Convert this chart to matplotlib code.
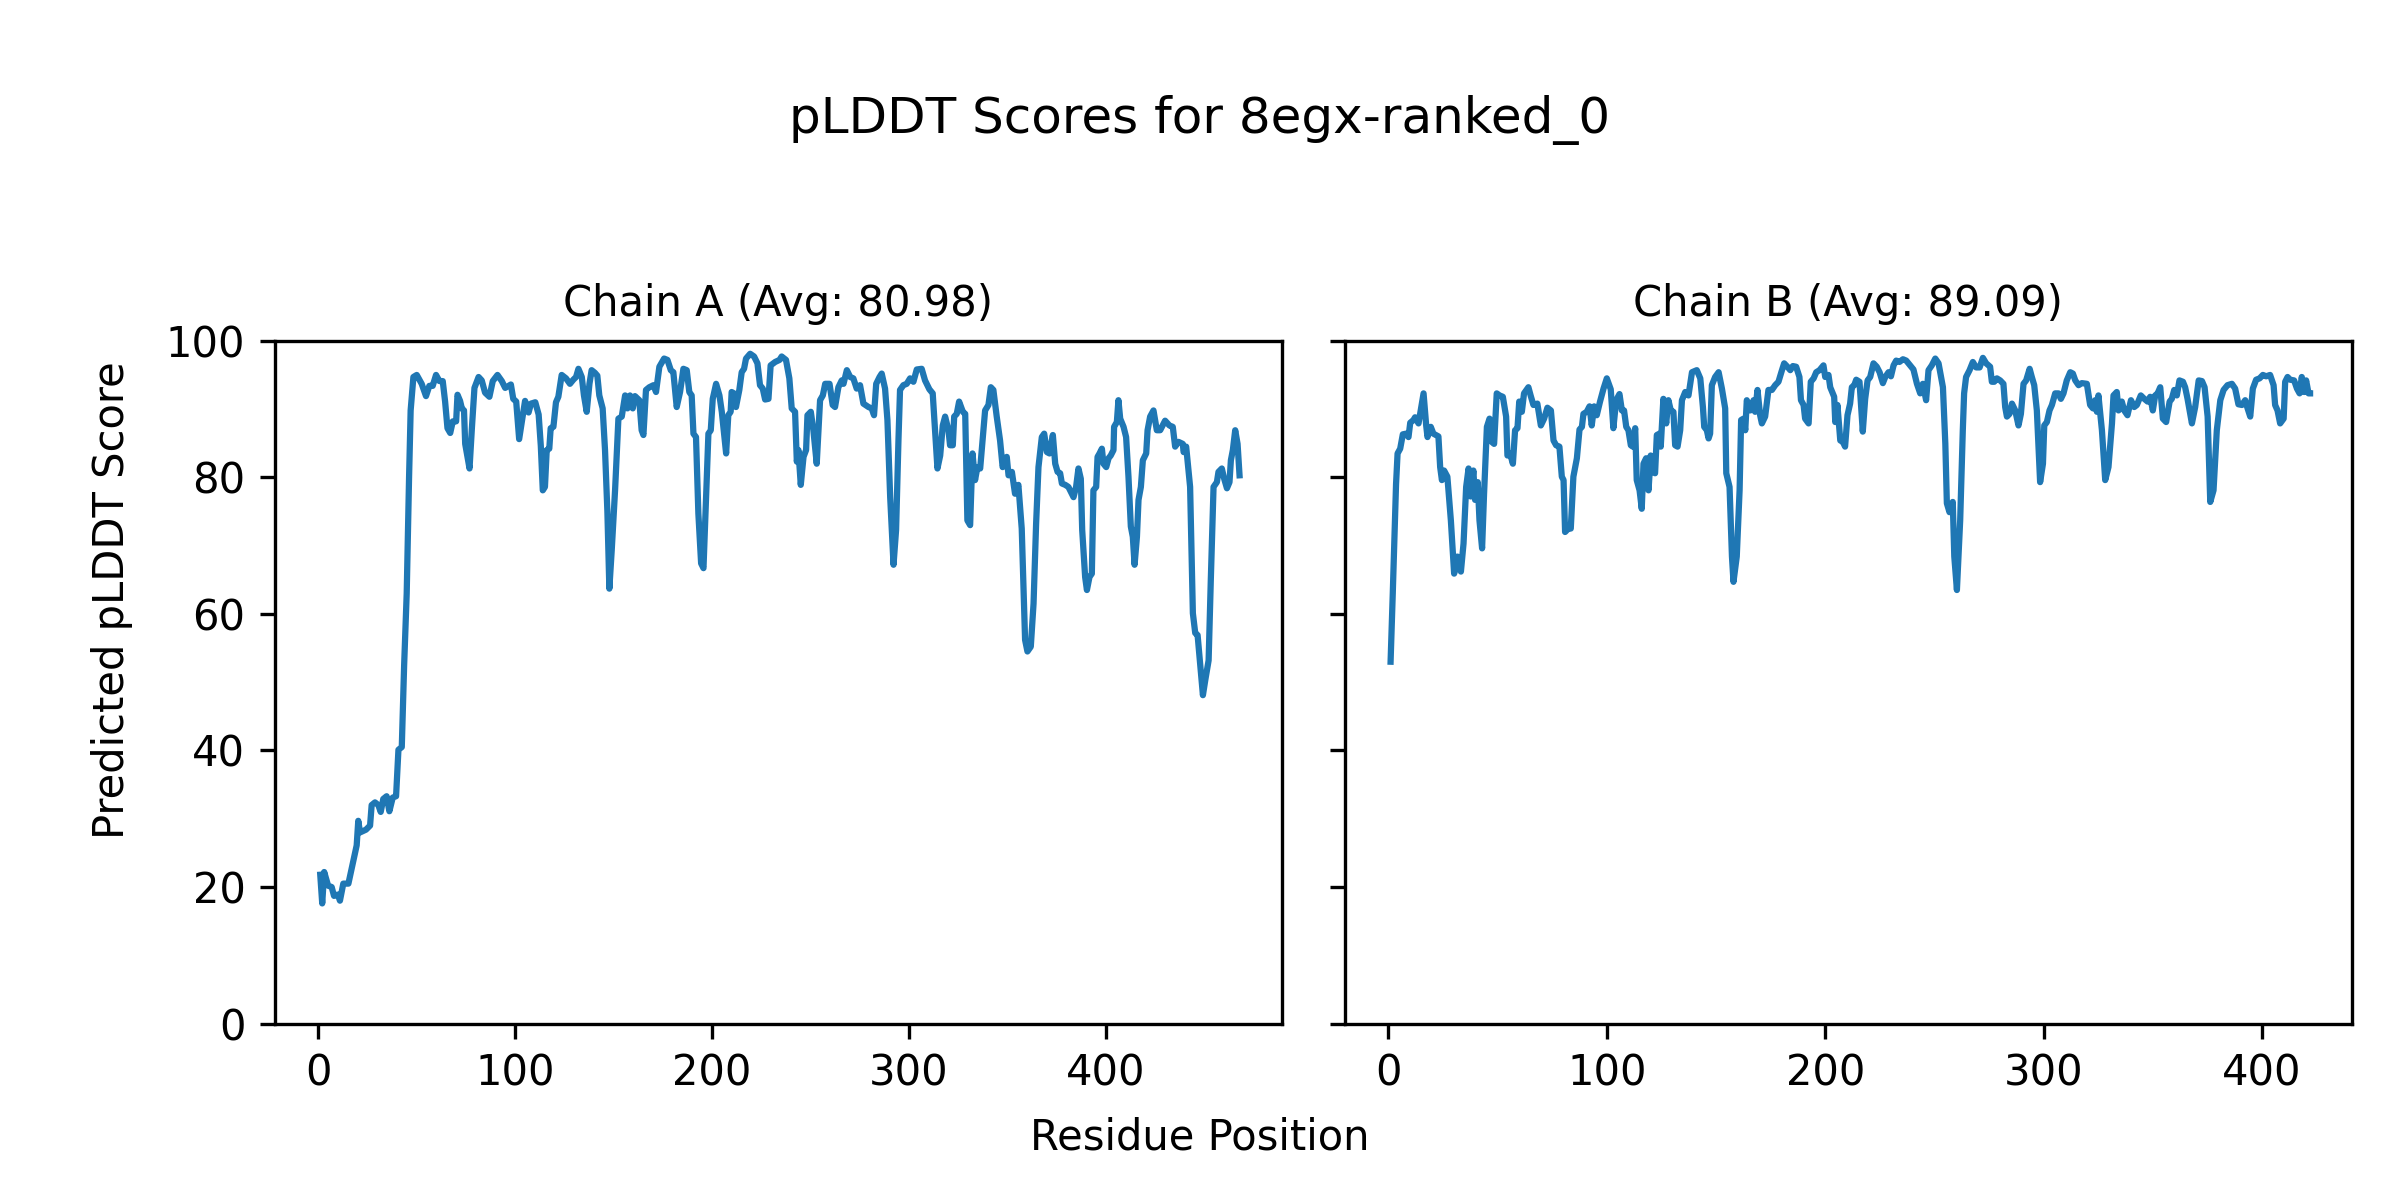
import matplotlib
matplotlib.use("Agg")
import matplotlib.pyplot as plt

# pLDDT per residue
chain_names = ["Chain A", "Chain B"]
chain_avgs = [80.98, 89.09]

chain_a_pos = [
    1, 2, 3, 5, 6.8, 8, 10, 11, 12.7, 15.3,
    17.8, 19.5, 20.3, 21.2, 24.2, 26.3, 27.1, 28.8, 30.5, 31.7,
    33, 34.7, 36.1, 37.8, 39.5, 40.7, 42.4, 43.6, 44.9, 46.1,
    46.9, 48.3, 50, 52.5, 54.7, 56.4, 58.1, 59.8, 61.5, 63.2,
    64.4, 65.6, 67, 68.3, 70, 70.7, 72, 72.9, 74, 74.6,
    76.8, 78, 79.3, 81.4, 83, 84.7, 86.9, 88.6, 91, 93.2,
    94.9, 97.8, 99, 100.5, 102, 103.9, 105, 106.8, 108, 110.2,
    111.9,
    113, 114, 115.1, 116, 117.3, 118, 119.4, 120.7, 121.9, 123.6,
    125.8, 127.8, 129.5, 130.9, 132.1, 133.8, 134.9, 136.3, 137.7, 138.8,
    140.5, 141.7, 142.7, 144.4, 145.6, 146.8, 147.8, 149, 150.7, 152.4,
    154.1, 155.8, 157, 158.3, 159.7, 160.8, 163, 164.2, 165.1, 166.4,
    168.1, 170.2, 171.5, 173.2, 175.6, 177.3, 179, 180.3, 182, 183.7,
    185.4, 187.1, 188.4, 189.6, 190.5, 191.8, 193, 194.4, 195.6, 196.9,
    198.1, 199.3, 200.3, 202, 203.7, 204.9, 207.1, 208.2, 209.4, 209.9,
    211.1, 212.1, 213.8, 215, 216.2, 217.2, 219.3, 221.3, 223, 224.3,
    225.7, 226.9, 228.6, 229.7, 232, 234.2, 235.3, 237.5, 239.2, 240.4,
    242.1, 243,
    243.8, 245, 246.4, 247.7, 248.4, 250.1, 251.4, 253.1, 254.8, 256.2,
    257.4, 259.6, 261.2, 262.4, 264.1, 265.8, 266.7, 268.4, 270.1, 271.7,
    273.4, 275.1, 276.8, 279.4, 281, 282.2, 283.3, 285, 286.1, 287.8,
    289, 290.4, 292.1, 293.4, 294.6, 295.4, 297.1, 298.8, 300.5, 302.2,
    303.9, 306.4, 308.1, 310.3, 312, 313.2, 314.4, 315.8, 317.1, 318.3,
    320, 320.8, 322.2, 322.9, 324.2, 325.4, 327.3, 328.5, 329.6, 331,
    332.2, 333.5, 334.7, 336.1, 337.4, 338.6, 340.3, 341.5, 342.8, 344.5,
    346.2, 347.5, 349.6, 350.5, 352.2, 353.8, 355.5, 357.2,
    358.9, 360.1, 361.8, 363.2, 364.5, 365.7, 367.4, 368.6, 370, 371.3,
    373, 374.2, 375.4, 376.7, 377.6, 379.3, 380.9, 382.1, 383.5, 384.8,
    386, 387.2, 387.9, 389.4, 390.3, 391.6, 392.8, 393.6, 395, 395.7,
    396.7, 397.9, 398.7, 400.1, 401.3, 402.4, 403.8, 404.1, 405.5, 406.3,
    407.2, 408.9, 410.2, 411.4, 412.6, 413.6, 414.5, 415.7, 416.5, 417.7,
    418.7, 420.4, 421.1, 422.4, 424.1, 425.8, 427.5, 430, 432.2, 433.9,
    435.1, 436.8, 439, 439.4, 440.7, 442.7, 444.1, 445.3, 446.5, 447.8,
    449.2, 450.4, 452.1, 453.2, 454.6, 456.3, 457.1, 458.8, 460, 461.4,
    462.7, 463.4, 464.4, 465.6, 466.8, 467.8,
]
chain_a_score = [
    21.8, 17.6, 22.2, 20.2, 20.0, 18.7, 18.9, 18.0, 20.5, 20.5,
    23.8, 26.1, 29.7, 28.0, 28.4, 29.0, 32.0, 32.4, 32.0, 31.0,
    32.9, 33.3, 31.1, 33.1, 33.3, 40.1, 40.5, 52.5, 63.0, 80.0,
    89.8, 94.7, 95.0, 93.7, 91.9, 93.4, 93.4, 95.0, 94.1, 94.1,
    91.1, 87.2, 86.5, 88.2, 88.2, 92.1, 91.2, 90.1, 89.8, 84.9,
    81.3, 87.2, 93.1, 94.7, 94.2, 92.4, 91.8, 94.1, 95.0, 94.1,
    93.1, 93.6, 91.5, 91.1, 85.6, 89.2, 91.2, 89.5, 90.8, 91.0,
    89.2,
    84.6, 78.1, 78.6, 84.0, 84.2, 87.2, 87.4, 91.0, 91.8, 95.0,
    94.5, 93.7, 94.3, 94.7, 95.9, 94.7, 92.0, 89.6, 93.7, 95.7,
    95.3, 94.9, 92.0, 90.1, 84.0, 75.0, 63.7, 69.3, 78.1, 88.6,
    88.9, 92.0, 90.1, 92.0, 90.1, 91.9, 91.3, 86.9, 86.2, 92.8,
    93.2, 93.5, 92.5, 96.2, 97.4, 97.2, 95.7, 95.4, 90.3, 92.5,
    95.9, 95.7, 92.5, 92.0, 86.4, 85.9, 74.7, 67.4, 66.7, 77.1,
    86.4, 86.9, 91.5, 93.7, 92.0, 89.6, 83.5, 89.1, 89.6, 92.5,
    92.3, 90.3, 92.8, 95.4, 95.9, 97.4, 98.1, 97.7, 96.7, 93.5,
    93.0, 91.4, 91.5, 96.4, 96.9, 97.2, 97.7, 97.2, 94.5, 90.1,
    89.6, 82.3,
    84.0, 78.9, 83.0, 84.0, 89.1, 89.6, 86.9, 82.0, 91.3, 92.0,
    93.7, 93.7, 90.6, 90.3, 93.2, 94.2, 93.7, 95.7, 94.7, 94.5,
    93.0, 93.5, 90.8, 90.3, 90.1, 89.1, 93.7, 94.7, 95.2, 93.0,
    88.4, 77.1, 67.2, 72.3, 85.4, 92.8, 93.5, 93.7, 94.5, 94.0,
    95.8, 95.9, 94.2, 92.9, 92.3, 86.9, 81.3, 83.2, 87.6, 88.9,
    86.9, 84.7, 84.7, 88.9, 89.3, 91.1, 89.6, 89.3, 73.7, 73.0,
    83.5, 79.6, 81.5, 81.3, 85.7, 89.8, 90.6, 93.2, 92.8, 88.9,
    85.4, 81.5, 83.0, 80.3, 80.8, 77.6, 78.9, 72.5,
    56.2, 54.5, 55.2, 61.5, 73.2, 81.5, 85.9, 86.4, 83.7, 83.5,
    86.2, 82.0, 80.8, 80.6, 79.1, 78.9, 78.6, 77.9, 77.1, 78.6,
    81.3, 79.8, 72.3, 65.4, 63.5, 65.4, 65.9, 78.1, 78.6, 83.0,
    83.5, 84.2, 82.0, 81.5, 82.8, 83.2, 84.0, 87.4, 88.1, 91.3,
    88.6, 87.4, 85.9, 80.1, 72.8, 71.3, 67.2, 71.3, 76.7, 78.6,
    82.5, 83.5, 86.9, 88.9, 89.8, 86.9, 86.9, 88.3, 87.6, 87.4,
    84.5, 85.2, 84.9, 83.7, 84.5, 78.6, 60.1, 57.2, 56.9, 52.7,
    48.1, 50.3, 53.2, 64.9, 78.6, 79.3, 80.8, 81.3, 79.8, 78.4,
    79.3, 82.5, 84.0, 86.9, 84.9, 80.3,
]

chain_b_pos = [
    1, 2, 3.5, 4.2, 5.4, 6.6, 8.1, 9.2, 10, 11.5,
    12.2, 13.8, 14.8, 16.1, 17.3, 17.9, 19.4, 20.6, 22.9, 23.7,
    24.5, 25.5, 27, 28.6, 30.1, 31.6, 33.2, 34.4, 35.6, 36.7,
    37.7, 38.9, 39.7, 40.9, 41.7, 42.9, 43.8, 45.1, 46.3, 47.3,
    48.4, 49.6, 50.9, 52.4, 53.9, 54.5, 55.7, 57, 58, 59.1,
    59.9, 61.1, 62.1, 64.1, 65.2, 66.4, 68.2, 69.8, 71.3, 72.8,
    74.4, 75.6, 76.8, 78.3, 79.4, 80.2, 80.9, 82.4, 83.5, 84.7,
    86.3, 87.5, 88.6, 89.3, 90.8, 92.1, 93.1, 94.2, 95.4, 96.9,
    98.5, 100, 101.8, 103, 104.3, 105.8, 106.9, 107.9, 108.9, 109.9,
    111, 111.9, 113, 113.7, 115, 116, 116.8, 118, 119.1, 120.1,
    121.1, 122.1, 122.9, 124.1, 124.7, 125.9, 127.2, 128.2, 129.3, 130.5,
    131.3, 132.4, 133.6,
    134.4, 135.9, 137.4, 139, 141.2, 142.8, 144, 144.6, 145.8, 146.6,
    147.3, 148.1, 149.6, 151.2, 152.7, 154.2, 154.7, 156.2, 157.3, 158,
    159.5, 160.8, 161.5, 162.6, 163.4, 164.1, 165.7, 167.2, 167.9, 169,
    170.2, 171, 172.5, 174, 175.6, 177.1, 178.6, 180.2, 181.2, 182.7,
    184, 185.2, 186.7, 188.2, 188.9, 190.1, 190.8, 192.4, 193.4, 194.7,
    195.9, 197.4, 199.2, 200, 201.5, 202.3, 204.1, 204.6, 205.6, 206.9,
    208.1, 209.1, 210.2, 211.4, 212.2, 213.3, 214.2, 215.7, 217.2, 218.3,
    219.4, 220.6, 222.1, 223.6, 224.9, 226.4, 227.5, 229, 230.1, 231.3,
    232.5, 234, 235.6, 237.1, 238.9, 240.4, 242, 243.5, 244.7, 246.2,
    247.3, 248.8, 250.4, 251.9, 253.9, 255, 255.7, 256.9, 258.4, 259.1,
    260.3, 261.8, 263, 263.6, 264.5, 266.1, 267.6, 269.1, 270.7, 272.2,
    273.7, 275.5, 276.3, 277.4, 278.6, 280.1, 281.6, 282.4, 283.2, 284.4,
    285.5, 287, 288.5, 289.6, 290.8, 292, 293.6, 294.6, 295.7, 296.9,
    298.4, 299.7, 300.3,
    301.5, 302.7, 303.8, 305.3, 306.8, 307.9, 309.1, 310.6, 312.2, 313.4,
    314.5, 316, 317.5, 319.8, 321.3, 322.6, 323.6, 324.4, 325.1, 326.7,
    328.2, 329.7, 331.3, 332, 333.5, 334.3, 335.8, 336.9, 338.4, 340,
    341.5, 342.7, 344.5, 346.1, 347.6, 348.8, 350, 351.1, 352.2, 353.4,
    354.6, 356.1, 357.7, 358.7, 359.8, 361, 362.2, 363.8, 364.8, 365.9,
    367.9, 369.4, 371, 372.5, 373.7, 375.1, 376.3, 377.8, 379.3, 380.9,
    382.4, 384.2, 386.2, 387.7, 389.2, 390.8, 392.3, 393.4, 394.6, 395.8,
    397.3, 398.9, 400.4, 401.9, 403.7, 405.3, 406, 407.1, 408.3, 409.9,
    410.6, 411.7, 412.9, 414.7, 416, 417.2, 418.2, 419.3, 420.2, 421.3,
    422,
]
chain_b_score = [
    53.0, 63.0, 79.0, 83.5, 84.2, 86.3, 86.4, 85.9, 88.0, 88.4,
    88.8, 87.9, 89.8, 92.3, 87.6, 85.9, 87.4, 86.4, 86.0, 81.5,
    79.6, 81.0, 80.1, 73.7, 65.9, 68.4, 66.2, 70.3, 78.6, 81.3,
    77.2, 81.0, 76.7, 79.3, 73.7, 69.6, 77.6, 87.4, 88.6, 85.2,
    84.9, 92.3, 92.0, 91.8, 88.9, 83.2, 83.5, 82.0, 86.9, 87.2,
    91.1, 89.6, 92.3, 93.2, 91.9, 90.6, 90.8, 87.6, 88.6, 90.2,
    89.8, 85.4, 84.7, 84.5, 80.1, 79.6, 72.0, 72.5, 72.5, 80.1,
    82.8, 87.0, 87.4, 89.3, 89.6, 90.4, 87.6, 90.4, 89.1, 91.1,
    93.0, 94.5, 92.9, 87.2, 91.3, 92.2, 89.8, 89.8, 87.4, 86.9,
    84.7, 84.5, 87.2, 79.6, 78.1, 75.4, 82.0, 82.8, 78.1, 83.2,
    80.8, 80.6, 86.2, 86.4, 84.5, 91.5, 87.9, 91.3, 89.8, 89.6,
    84.7, 84.5, 86.9,
    91.3, 92.5, 92.0, 95.4, 95.7, 94.5, 90.3, 87.4, 86.9, 85.7,
    86.4, 93.5, 94.7, 95.4, 93.0, 90.1, 80.6, 78.6, 68.4, 64.7,
    68.4, 78.1, 88.4, 88.6, 86.9, 91.3, 89.8, 91.3, 89.6, 92.8,
    89.1, 87.9, 88.9, 92.8, 92.8, 93.5, 94.0, 95.7, 96.7, 96.2,
    95.7, 96.3, 96.2, 94.7, 91.3, 90.6, 88.6, 87.9, 94.0, 94.5,
    95.4, 95.7, 96.4, 94.7, 95.0, 93.2, 91.8, 88.1, 90.6, 85.4,
    85.2, 84.5, 89.1, 90.8, 93.2, 93.5, 94.3, 94.0, 86.7, 91.5,
    94.2, 94.7, 96.7, 96.2, 95.4, 93.8, 94.7, 95.4, 94.8, 96.4,
    97.1, 96.9, 97.3, 97.1, 96.4, 95.8, 93.7, 92.3, 93.7, 91.3,
    95.7, 96.4, 97.4, 96.7, 93.2, 84.9, 76.2, 74.9, 76.4, 68.4,
    63.5, 73.7, 86.9, 92.3, 94.7, 95.7, 96.9, 96.1, 96.1, 97.5,
    96.7, 96.2, 94.0, 94.0, 94.5, 94.2, 93.7, 90.3, 88.9, 89.3,
    90.8, 89.8, 87.6, 89.3, 93.7, 94.2, 95.9, 94.7, 93.5, 89.8,
    79.3, 82.0, 87.6,
    88.1, 89.8, 90.6, 92.3, 92.3, 91.5, 92.3, 94.2, 95.4, 95.2,
    94.2, 93.5, 93.8, 93.7, 90.6, 90.1, 91.3, 89.6, 92.0, 86.9,
    79.6, 81.5, 87.9, 92.0, 92.5, 89.8, 91.1, 89.8, 89.1, 91.3,
    90.3, 90.6, 92.0, 91.5, 91.1, 91.8, 89.8, 92.0, 92.3, 93.2,
    88.6, 88.1, 91.1, 91.5, 92.8, 92.0, 94.2, 94.0, 93.2, 91.5,
    87.9, 90.3, 94.2, 94.1, 93.2, 88.9, 76.4, 78.1, 86.9, 91.3,
    92.8, 93.5, 93.7, 93.0, 90.7, 90.6, 91.3, 90.1, 88.9, 93.0,
    94.3, 94.5, 95.0, 94.8, 95.0, 93.5, 90.6, 89.8, 87.9, 88.6,
    94.0, 94.7, 94.3, 94.2, 93.0, 92.3, 94.7, 92.5, 94.2, 92.3,
    92.3,
]

# figure
fig = plt.figure(figsize=(8, 4), dpi=300)
ax_a = fig.add_axes([0.1144, 0.147, 0.4198, 0.569])
ax_b = fig.add_axes([0.5603, 0.147, 0.4197, 0.569], sharey=ax_a)

ax_a.plot(chain_a_pos, chain_a_score, color="#1f77b4", linewidth=1.5)
ax_b.plot(chain_b_pos, chain_b_score, color="#1f77b4", linewidth=1.5)

ax_a.set_title(f"{chain_names[0]} (Avg: {chain_avgs[0]:.2f})", fontsize=10)
ax_b.set_title(f"{chain_names[1]} (Avg: {chain_avgs[1]:.2f})", fontsize=10)

ax_a.set_ylim(0, 100)
ax_a.set_xlim(-22.2, 489.4)
ax_b.set_xlim(-20.0, 441.2)
ax_a.set_xticks([0, 100, 200, 300, 400])
ax_b.set_xticks([0, 100, 200, 300, 400])
ax_b.tick_params(labelleft=False)

fig.suptitle("pLDDT Scores for 8egx-ranked_0", y=0.9, va="center", fontsize=12)
fig.supxlabel("Residue Position", y=0.0525, va="center", fontsize=10)
fig.supylabel("Predicted pLDDT Score", x=0.0467, ha="center", fontsize=10)

fig.savefig("out.png", dpi=300)
